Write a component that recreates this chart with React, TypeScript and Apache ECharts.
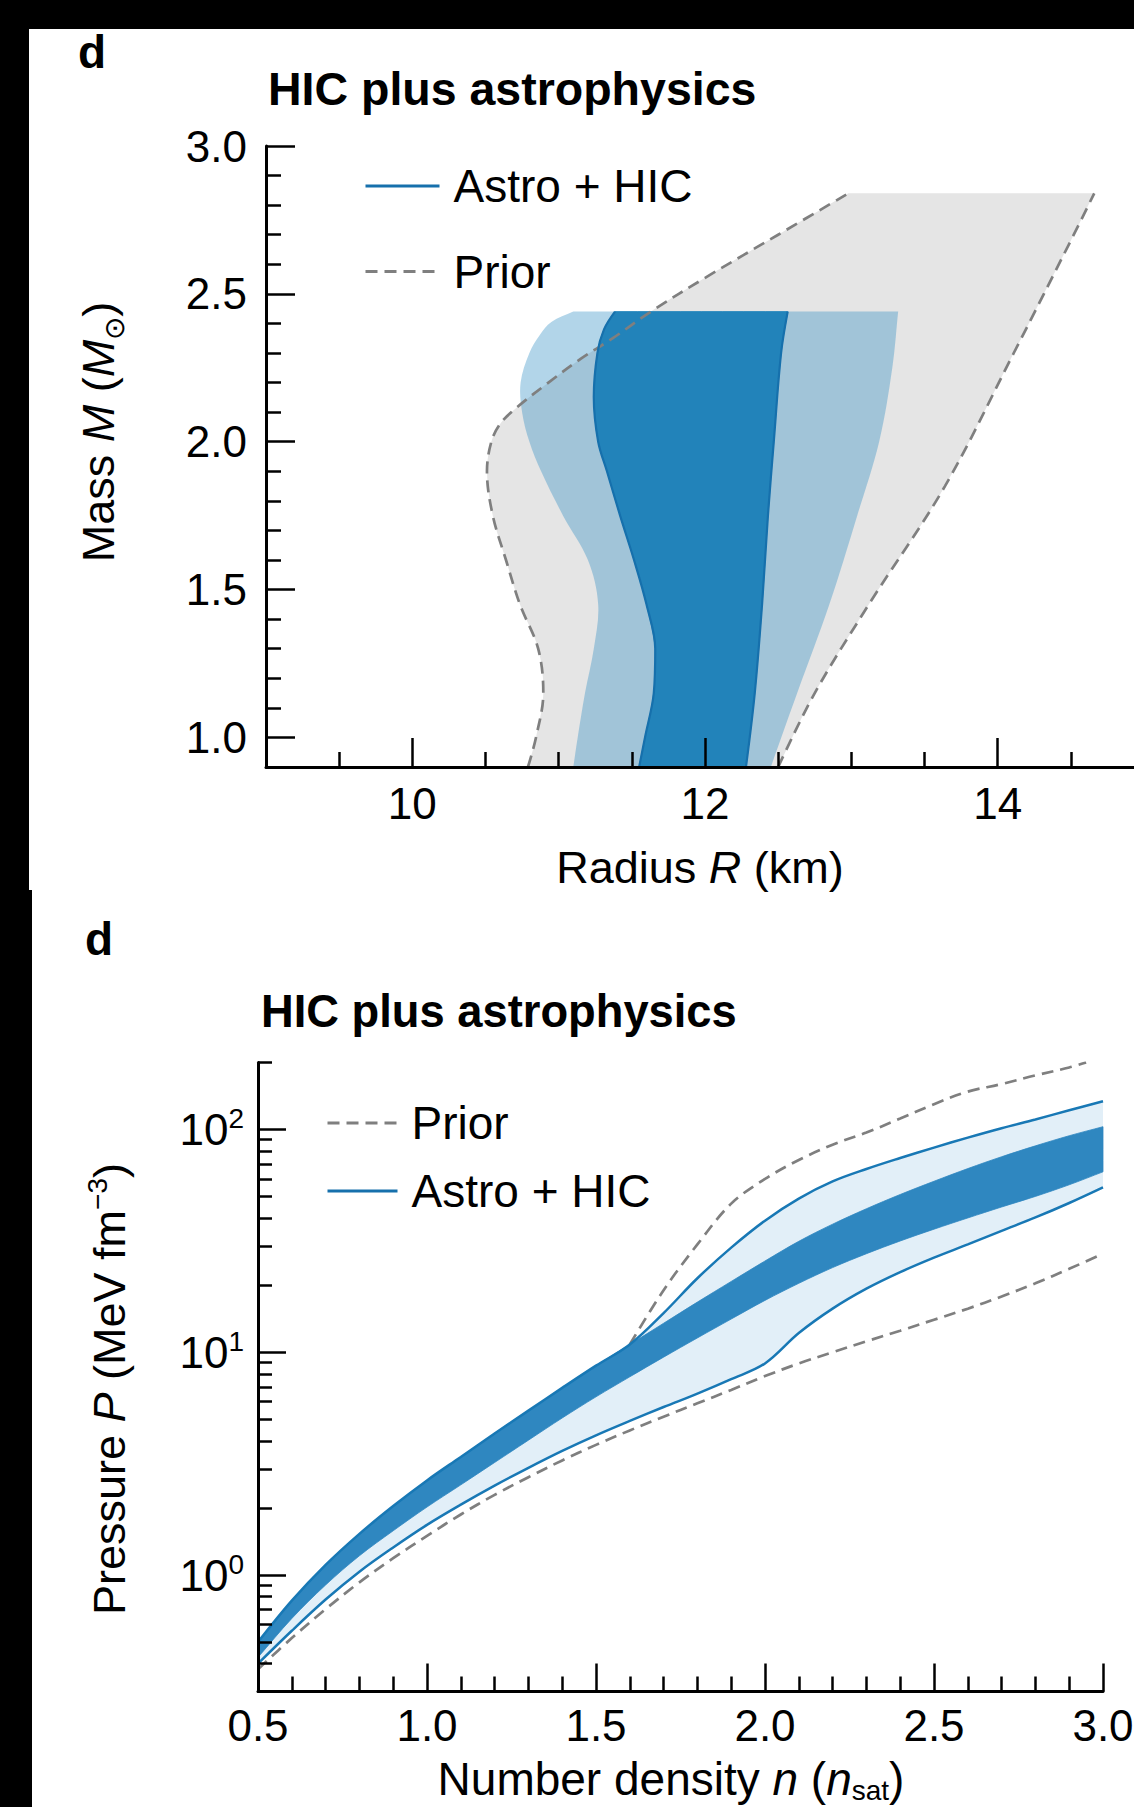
import React, { useEffect, useRef } from "react";
import * as echarts from "echarts";

const FONT = '"Liberation Sans", Arial, Helvetica, sans-serif';

// ---------------- Panel 1: mass (M_sun) vs radius (km) ----------------
const priorLeftM = [0.9, 1.0, 1.15, 1.3, 1.45, 1.6, 1.75, 1.9, 2.0, 2.06, 2.11, 2.2, 2.28, 2.35, 2.44, 2.56, 2.7, 2.84];
const priorLeftR = [10.79, 10.845, 10.895, 10.86, 10.735, 10.64, 10.55, 10.51, 10.54, 10.6, 10.7, 10.93, 11.15, 11.37, 11.63, 12.02, 12.5, 12.98];
const priorRightM = [0.9, 1.15, 1.45, 1.85, 2.3, 2.7, 2.84];
const priorRightR = [12.5, 12.75, 13.12, 13.64, 14.11, 14.52, 14.66];

const band95LeftM = [0.9, 1.0, 1.15, 1.3, 1.45, 1.6, 1.75, 1.9, 2.0, 2.1, 2.2, 2.3, 2.36, 2.405, 2.44];
const band95LeftR = [11.1, 11.13, 11.18, 11.24, 11.27, 11.2, 11.03, 10.88, 10.8, 10.75, 10.74, 10.8, 10.87, 10.95, 11.1];
const band95RightM = [0.9, 1.15, 1.45, 1.75, 2.0, 2.25, 2.44];
const band95RightR = [12.45, 12.63, 12.85, 13.04, 13.19, 13.28, 13.32];

const band68LeftM = [0.9, 1.0, 1.15, 1.3, 1.45, 1.6, 1.75, 1.9, 2.0, 2.15, 2.3, 2.38, 2.44];
const band68LeftR = [11.55, 11.59, 11.65, 11.66, 11.6, 11.515, 11.42, 11.33, 11.27, 11.24, 11.265, 11.31, 11.385];
const band68RightM = [0.9, 1.15, 1.45, 1.75, 2.0, 2.3, 2.44];
const band68RightR = [12.28, 12.34, 12.39, 12.43, 12.47, 12.52, 12.565];

const massMajorTicks = [1.0, 1.5, 2.0, 2.5, 3.0];
const massMinorTicks = [1.1, 1.2, 1.3, 1.4, 1.6, 1.7, 1.8, 1.9, 2.1, 2.2, 2.3, 2.4, 2.6, 2.7, 2.8, 2.9];
const radiusMajorTicks = [10, 12, 14];
const radiusMinorTicks = [9.5, 10.5, 11, 11.5, 12.5, 13, 13.5, 14.5];

// ---------------- Panel 2: pressure (MeV fm^-3) vs density (n_sat) ----------------
const densityN = [0.5, 0.6, 0.7, 0.8, 0.9, 1.0, 1.1, 1.2, 1.3, 1.4, 1.5, 1.6, 1.7, 1.8, 1.9, 2.0, 2.1, 2.2, 2.3, 2.4, 2.5, 2.6, 2.7, 2.8, 2.9, 3.0];
const p68Upper = [0.5, 0.767, 1.11, 1.53, 2.04, 2.66, 3.39, 4.32, 5.47, 6.92, 8.71, 10.84, 13.5, 16.8, 20.8, 25.7, 31.5, 37.6, 44.1, 51.1, 58.6, 66.8, 75.5, 84.5, 93.8, 103];
const p68Lower = [0.427, 0.638, 0.902, 1.22, 1.58, 2.02, 2.54, 3.2, 4.03, 5.07, 6.31, 7.76, 9.51, 11.6, 14.1, 17.1, 20.4, 24.0, 27.7, 31.6, 35.7, 40.1, 44.9, 50.1, 56.5, 64.6];
const p95Upper = [0.5, 0.767, 1.11, 1.53, 2.04, 2.66, 3.39, 4.32, 5.47, 6.92, 8.71, 10.84, 15.0, 21.5, 29.5, 39, 49, 58.5, 66.5, 74.5, 83, 92, 101.4, 111, 122, 134];
const p95Lower = [0.4, 0.562, 0.776, 1.035, 1.33, 1.68, 2.07, 2.52, 3.03, 3.61, 4.24, 4.92, 5.68, 6.52, 7.57, 8.91, 12.2, 15.7, 19.3, 22.9, 26.6, 30.5, 35.1, 40.3, 46.8, 55.0];
const pPriorLower = [0.378, 0.521, 0.703, 0.927, 1.19, 1.5, 1.87, 2.29, 2.75, 3.27, 3.84, 4.46, 5.14, 5.9, 6.78, 7.82, 8.91, 10.0, 11.2, 12.5, 14.0, 15.7, 17.8, 20.4, 23.7, 27.7];
const priorUpperN = [1.6, 1.7, 1.8, 1.9, 2.0, 2.1, 2.2, 2.3, 2.4, 2.5, 2.6, 2.7, 2.8, 2.9, 2.95];
const pPriorUpper = [10.84, 19, 30.5, 46.5, 60, 73, 85.5, 97, 112, 130, 148, 160, 175, 190, 200];

const densityMajorTicks = [0.5, 1.0, 1.5, 2.0, 2.5, 3.0];
const densityMinorTicks = [0.6, 0.7, 0.8, 0.9, 1.1, 1.2, 1.3, 1.4, 1.6, 1.7, 1.8, 1.9, 2.1, 2.2, 2.3, 2.4, 2.6, 2.7, 2.8, 2.9];
const pressureMajorTicks = [1, 10, 100];
const pressureMinorTicks = [0.3, 0.4, 0.5, 0.6, 0.7, 0.8, 0.9, 2, 3, 4, 5, 6, 7, 8, 9, 20, 30, 40, 50, 60, 70, 80, 90, 200];

// ---------------- helpers ----------------
const pairs = (xs: number[], ys: number[]) => xs.map((x, i) => [x, ys[i]]);

function bandSeries(sideA: number[][], sideB: number[][], fill: string, axisIndex: number, stroke?: string) {
  const raw = [...sideA, ...sideB.slice().reverse()];
  const corners = [0, sideA.length - 1, sideA.length, raw.length - 1];
  const ring: number[][] = [];
  raw.forEach((p, i) => {
    ring.push(p);
    if (corners.indexOf(i) >= 0) ring.push(p);
  });
  return {
    type: "custom",
    xAxisIndex: axisIndex,
    yAxisIndex: axisIndex,
    silent: true,
    data: raw,
    encode: { x: 0, y: 1 },
    renderItem: (params: any, api: any) => {
      if (params.dataIndex !== 0) return null;
      const pts = ring.map((p) => api.coord(p));
      return {
        type: "polygon",
        shape: { points: pts, smooth: 0.35 },
        style: { fill, stroke: stroke || "none", lineWidth: stroke ? 0.8 : 0 },
      };
    },
  };
}

function edgeSeries(name: string, data: number[][], color: string, width: number, dashed: boolean, axisIndex: number) {
  return {
    type: "line",
    name,
    xAxisIndex: axisIndex,
    yAxisIndex: axisIndex,
    data,
    symbol: "none",
    smooth: 0.35,
    silent: true,
    lineStyle: { color, width, type: dashed ? [12, 7] : "solid" },
    itemStyle: { color },
    emphasis: { disabled: true },
  };
}

const GRAY_DASH = "#7f7f7f";
const tickStyle = { color: "#000", width: 2.5 };
const axisLineStyle = { lineStyle: { color: "#000", width: 3 } };
const labelBase = { color: "#000", fontSize: 44, fontFamily: FONT };

function minorAxis(gridIndex: number, type: string, min: number, max: number, position: string, values: number[], length: number) {
  return {
    gridIndex,
    type,
    min,
    max,
    position,
    z: 5,
    axisLine: { show: false },
    splitLine: { show: false },
    axisLabel: { show: false },
    axisTick: { inside: true, length, lineStyle: tickStyle, customValues: values },
  };
}

function legendBlock(data: string[], left: number, top: number, itemWidth: number, itemGap: number, textPad: number) {
  return {
    data,
    orient: "vertical",
    left,
    top,
    padding: 0,
    itemWidth,
    itemHeight: 20,
    itemGap,
    selectedMode: false,
    itemStyle: { opacity: 0 },
    lineStyle: { width: 3 },
    textStyle: { color: "#000", fontSize: 46, fontFamily: FONT, lineHeight: 45, padding: [0, 0, 0, textPad] },
  };
}

function buildOption() {
  const txt = (size: number, lh: number, extra: any = {}) => ({ fontSize: size, fontFamily: FONT, fill: "#000", lineHeight: lh, ...extra });
  return {
    animation: false,
    backgroundColor: "transparent",
    textStyle: { fontFamily: FONT },
    grid: [
      { left: 266, top: 146, width: 878, height: 621, outerBoundsMode: "none", containLabel: false },
      { left: 258, top: 1062.5, width: 845, height: 629, outerBoundsMode: "none", containLabel: false },
    ],
    legend: [
      legendBlock(["Astro + HIC", "Prior"], 364, 163, 74, 39.5, 9),
      legendBlock(["Prior", "Astro + HIC"], 326, 1100, 70, 22, 9),
    ],
    xAxis: [
      {
        gridIndex: 0,
        type: "value",
        min: 9,
        max: 15,
        position: "bottom",
        z: 5,
        axisLine: axisLineStyle,
        splitLine: { show: false },
        axisTick: { inside: true, length: 29, lineStyle: tickStyle, customValues: radiusMajorTicks },
        axisLabel: { ...labelBase, margin: 14, lineHeight: 45, customValues: radiusMajorTicks },
        name: "{t|Radius }{i|R}{t| (km)}",
        nameLocation: "middle",
        nameGap: 78,
        nameTextStyle: {
          color: "#000",
          fontSize: 45,
          lineHeight: 45,
          padding: [0, 10, 0, 0],
          rich: {
            t: { fontSize: 45, fontFamily: FONT, color: "#000", lineHeight: 45 },
            i: { fontSize: 45, fontFamily: FONT, color: "#000", lineHeight: 45, fontStyle: "italic" },
          },
        },
      },
      minorAxis(0, "value", 9, 15, "bottom", radiusMinorTicks, 15),
      {
        gridIndex: 1,
        type: "value",
        min: 0.5,
        max: 3.0,
        position: "bottom",
        z: 5,
        axisLine: axisLineStyle,
        splitLine: { show: false },
        axisTick: { inside: true, length: 28, lineStyle: tickStyle, customValues: densityMajorTicks },
        axisLabel: { ...labelBase, margin: 11, lineHeight: 45, customValues: densityMajorTicks, formatter: (v: number) => v.toFixed(1) },
        name: "{t|Number density }{i|n}{t| (}{i|n}{sub|sat}{t|)}",
        nameLocation: "middle",
        nameGap: 61,
        nameTextStyle: {
          color: "#000",
          fontSize: 46,
          lineHeight: 52,
          padding: [0, 19, 0, 0],
          rich: {
            t: { fontSize: 46, fontFamily: FONT, color: "#000", lineHeight: 52, verticalAlign: "middle" },
            i: { fontSize: 46, fontFamily: FONT, color: "#000", lineHeight: 52, verticalAlign: "middle", fontStyle: "italic" },
            sub: { fontSize: 28, fontFamily: FONT, color: "#000", lineHeight: 28, verticalAlign: "bottom" },
          },
        },
      },
      minorAxis(1, "value", 0.5, 3.0, "bottom", densityMinorTicks, 15),
    ],
    yAxis: [
      {
        gridIndex: 0,
        type: "value",
        min: 0.9,
        max: 3.0,
        position: "left",
        z: 5,
        axisLine: axisLineStyle,
        splitLine: { show: false },
        axisTick: { inside: true, length: 29, lineStyle: tickStyle, customValues: massMajorTicks },
        axisLabel: { ...labelBase, margin: 19, customValues: massMajorTicks, formatter: (v: number) => v.toFixed(1) },
      },
      minorAxis(0, "value", 0.9, 3.0, "left", massMinorTicks, 15),
      {
        gridIndex: 1,
        type: "log",
        logBase: 10,
        min: 0.3,
        max: 200,
        position: "left",
        z: 5,
        axisLine: axisLineStyle,
        splitLine: { show: false },
        axisTick: { inside: true, length: 28, lineStyle: tickStyle, customValues: pressureMajorTicks },
        axisLabel: {
          ...labelBase,
          margin: 14,
          customValues: pressureMajorTicks,
          formatter: (v: number) => `{b|10}{sup|${Math.round(Math.log10(v))}}`,
          rich: {
            b: { fontSize: 44, fontFamily: FONT, color: "#000", lineHeight: 50, verticalAlign: "middle" },
            sup: { fontSize: 28, fontFamily: FONT, color: "#000", lineHeight: 28, verticalAlign: "top" },
          },
        },
      },
      minorAxis(1, "log", 0.3, 200, "left", pressureMinorTicks, 14),
    ],
    series: [
      // panel 1
      bandSeries(pairs(priorLeftR, priorLeftM), pairs(priorRightR, priorRightM), "#e5e5e5", 0),
      bandSeries(pairs(band95LeftR, band95LeftM), pairs(band95RightR, band95RightM), "rgba(41,138,195,0.36)", 0),
      bandSeries(pairs(band68LeftR, band68LeftM), pairs(band68RightR, band68RightM), "#2283ba", 0, "#2283ba"),
      edgeSeries("Prior", pairs(priorLeftR, priorLeftM), GRAY_DASH, 2.7, true, 0),
      edgeSeries("Prior", pairs(priorRightR, priorRightM), GRAY_DASH, 2.7, true, 0),
      edgeSeries("Astro + HIC", pairs(band68LeftR, band68LeftM), "#1670ac", 2.2, false, 0),
      edgeSeries("Astro + HIC", pairs(band68RightR, band68RightM), "#1670ac", 2.2, false, 0),
      // panel 2
      bandSeries(pairs(densityN, p95Lower), pairs(densityN, p95Upper), "#e2eff8", 2),
      bandSeries(pairs(densityN, p68Lower), pairs(densityN, p68Upper), "#2f87c0", 2, "#2f87c0"),
      edgeSeries("Prior", pairs(densityN, pPriorLower), GRAY_DASH, 2.7, true, 2),
      edgeSeries("Prior", pairs(priorUpperN, pPriorUpper), GRAY_DASH, 2.7, true, 2),
      edgeSeries("Astro + HIC", pairs(densityN, p95Upper), "#1878b5", 2.5, false, 2),
      edgeSeries("Astro + HIC", pairs(densityN, p95Lower), "#1878b5", 2.5, false, 2),
    ],
    graphic: [
      { type: "text", x: 78, y: 52, style: { text: "d", fontSize: 46, fontWeight: "bold", fontFamily: FONT, fill: "#000", align: "left", verticalAlign: "middle" } },
      { type: "text", x: 268, y: 89, style: { text: "HIC plus astrophysics", fontSize: 46.5, fontWeight: "bold", fontFamily: FONT, fill: "#000", align: "left", verticalAlign: "middle" } },
      { type: "text", x: 85, y: 939, style: { text: "d", fontSize: 46, fontWeight: "bold", fontFamily: FONT, fill: "#000", align: "left", verticalAlign: "middle" } },
      { type: "text", x: 261, y: 1011, style: { text: "HIC plus astrophysics", fontSize: 45.3, fontWeight: "bold", fontFamily: FONT, fill: "#000", align: "left", verticalAlign: "middle" } },
      {
        type: "text",
        x: 98,
        y: 432,
        rotation: Math.PI / 2,
        style: {
          text: "{t|Mass }{i|M}{t| (}{i|M}{sub|\u2299}{t|)}",
          align: "center",
          verticalAlign: "middle",
          rich: {
            t: txt(45, 60, { verticalAlign: "middle" }),
            i: txt(45, 60, { verticalAlign: "middle", fontStyle: "italic" }),
            sub: txt(28, 28, { verticalAlign: "bottom" }),
          },
        },
      },
      {
        type: "text",
        x: 109,
        y: 1389,
        rotation: Math.PI / 2,
        style: {
          text: "{t|Pressure }{i|P}{t| (MeV fm}{sup|\u22123}{t|)}",
          align: "center",
          verticalAlign: "middle",
          rich: {
            t: txt(45, 52, { verticalAlign: "middle" }),
            i: txt(45, 52, { verticalAlign: "middle", fontStyle: "italic" }),
            sup: txt(28, 28, { verticalAlign: "top" }),
          },
        },
      },
    ],
  };
}

export default function App() {
  const ref = useRef<HTMLDivElement>(null);
  useEffect(() => {
    if (!ref.current) return;
    const chart = echarts.init(ref.current, undefined, { renderer: "svg" });
    chart.setOption(buildOption() as any);
    return () => chart.dispose();
  }, []);
  return (
    <div style={{ position: "absolute", left: 0, top: 0, width: 1134, height: 1807, background: "#000", overflow: "hidden" }}>
      <div style={{ position: "absolute", left: 29, top: 29, width: 1105, height: 861, background: "#fff" }} />
      <div style={{ position: "absolute", left: 32, top: 890, width: 1102, height: 917, background: "#fff" }} />
      <div ref={ref} style={{ position: "absolute", left: 0, top: 0, width: 1134, height: 1807 }} />
    </div>
  );
}
